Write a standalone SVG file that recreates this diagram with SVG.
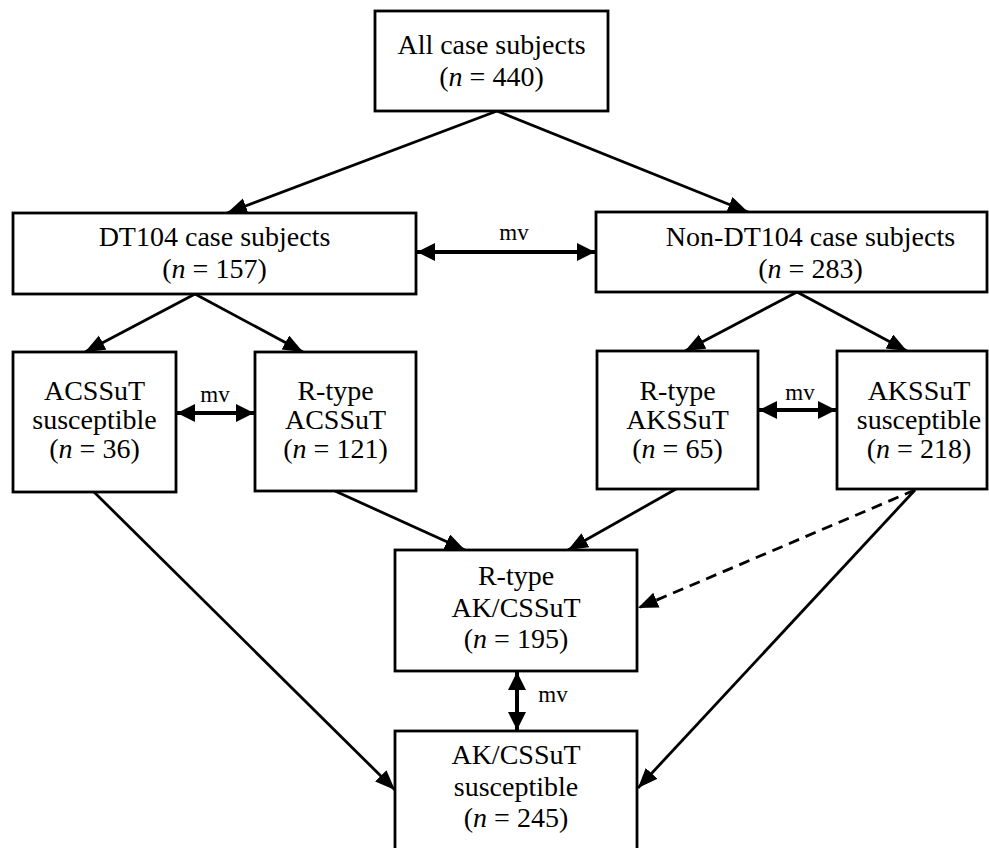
<svg xmlns="http://www.w3.org/2000/svg" width="989" height="848" viewBox="0 0 989 848">
<style>
.box{fill:#fff;stroke:#000;stroke-width:2.8}
.t{font-family:"Liberation Serif","Times New Roman",serif;font-size:28px;fill:#000;text-anchor:middle}
.mv{font-family:"Liberation Serif","Times New Roman",serif;font-size:23px;fill:#000;text-anchor:middle}
.i{font-style:italic}
.c{fill:none;stroke:#000;stroke-width:2.8}
.d{fill:none;stroke:#000;stroke-width:4}
.dash{stroke-dasharray:11 7}
</style>
<defs>
<marker id="ah" markerUnits="userSpaceOnUse" markerWidth="22" markerHeight="18" refX="20" refY="8" orient="auto"><path d="M0,0 L20,8 L0,16 z" fill="#000"/></marker>
<marker id="dh" markerUnits="userSpaceOnUse" markerWidth="20" markerHeight="20" refX="18" refY="9" orient="auto-start-reverse"><path d="M0,0 L18,9 L0,18 z" fill="#000"/></marker>
</defs>

<g id="connectors">
<path class="c" d="M497,111 L227,213" marker-end="url(#ah)"/>
<path class="c" d="M497,111 L748,212" marker-end="url(#ah)"/>
<path class="c" d="M195,294 L85,352" marker-end="url(#ah)"/>
<path class="c" d="M195,294 L303,352" marker-end="url(#ah)"/>
<path class="c" d="M797,292 L685,351" marker-end="url(#ah)"/>
<path class="c" d="M797,292 L907,351" marker-end="url(#ah)"/>
<path class="c" d="M94,492 L395,790" marker-end="url(#ah)"/>
<path class="c" d="M335,491 L465,550" marker-end="url(#ah)"/>
<path class="c" d="M676,489 L568,550" marker-end="url(#ah)"/>
<path class="c dash" d="M915,490 L638,608" marker-end="url(#ah)"/>
<path class="c" d="M915,490 L638,788" marker-end="url(#ah)"/>
<path class="d" d="M417,252 L595,252" marker-start="url(#dh)" marker-end="url(#dh)"/>
<path class="d" d="M177,413 L254,413" marker-start="url(#dh)" marker-end="url(#dh)"/>
<path class="d" d="M759,410 L836,410" marker-start="url(#dh)" marker-end="url(#dh)"/>
<path class="d" d="M517,672 L517,730" marker-start="url(#dh)" marker-end="url(#dh)"/>
<text class="mv" x="514" y="240">mv</text>
<text class="mv" x="215" y="402">mv</text>
<text class="mv" x="800" y="400">mv</text>
<text class="mv" x="553" y="702">mv</text>
</g>

<g id="all">
<rect class="box" x="375" y="11" width="233" height="100"/>
<text class="t" x="491.5" y="54">All case subjects</text>
<text class="t" x="491.5" y="86">(<tspan class="i">n</tspan> = 440)</text>
</g>

<g id="dt104">
<rect class="box" x="13" y="213" width="403" height="81"/>
<text class="t" x="214.5" y="246">DT104 case subjects</text>
<text class="t" x="214.5" y="278">(<tspan class="i">n</tspan> = 157)</text>
</g>

<g id="nondt104">
<rect class="box" x="596" y="212" width="391" height="80"/>
<text class="t" x="810.5" y="246">Non-DT104 case subjects</text>
<text class="t" x="810.5" y="278">(<tspan class="i">n</tspan> = 283)</text>
</g>

<g id="acssut-susc">
<rect class="box" x="13" y="352" width="163" height="140"/>
<text class="t" x="94.5" y="400">ACSSuT</text>
<text class="t" x="94.5" y="429">susceptible</text>
<text class="t" x="94.5" y="458">(<tspan class="i">n</tspan> = 36)</text>
</g>

<g id="rtype-acssut">
<rect class="box" x="255" y="352" width="161" height="139"/>
<text class="t" x="335.5" y="400">R-type</text>
<text class="t" x="335.5" y="429">ACSSuT</text>
<text class="t" x="335.5" y="458">(<tspan class="i">n</tspan> = 121)</text>
</g>

<g id="rtype-akssut">
<rect class="box" x="597" y="351" width="161" height="138"/>
<text class="t" x="677.5" y="400">R-type</text>
<text class="t" x="677.5" y="429">AKSSuT</text>
<text class="t" x="677.5" y="458">(<tspan class="i">n</tspan> = 65)</text>
</g>

<g id="akssut-susc">
<rect class="box" x="837" y="351" width="150" height="138"/>
<text class="t" x="919" y="400">AKSSuT</text>
<text class="t" x="919" y="429">susceptible</text>
<text class="t" x="919" y="458">(<tspan class="i">n</tspan> = 218)</text>
</g>

<g id="rtype-akcssut">
<rect class="box" x="395" y="550" width="242" height="121"/>
<text class="t" x="516" y="585">R-type</text>
<text class="t" x="516" y="617">AK/CSSuT</text>
<text class="t" x="516" y="648">(<tspan class="i">n</tspan> = 195)</text>
</g>

<g id="akcssut-susc">
<rect class="box" x="395" y="731" width="242" height="130"/>
<text class="t" x="516" y="764">AK/CSSuT</text>
<text class="t" x="516" y="796">susceptible</text>
<text class="t" x="516" y="827">(<tspan class="i">n</tspan> = 245)</text>
</g>
</svg>
